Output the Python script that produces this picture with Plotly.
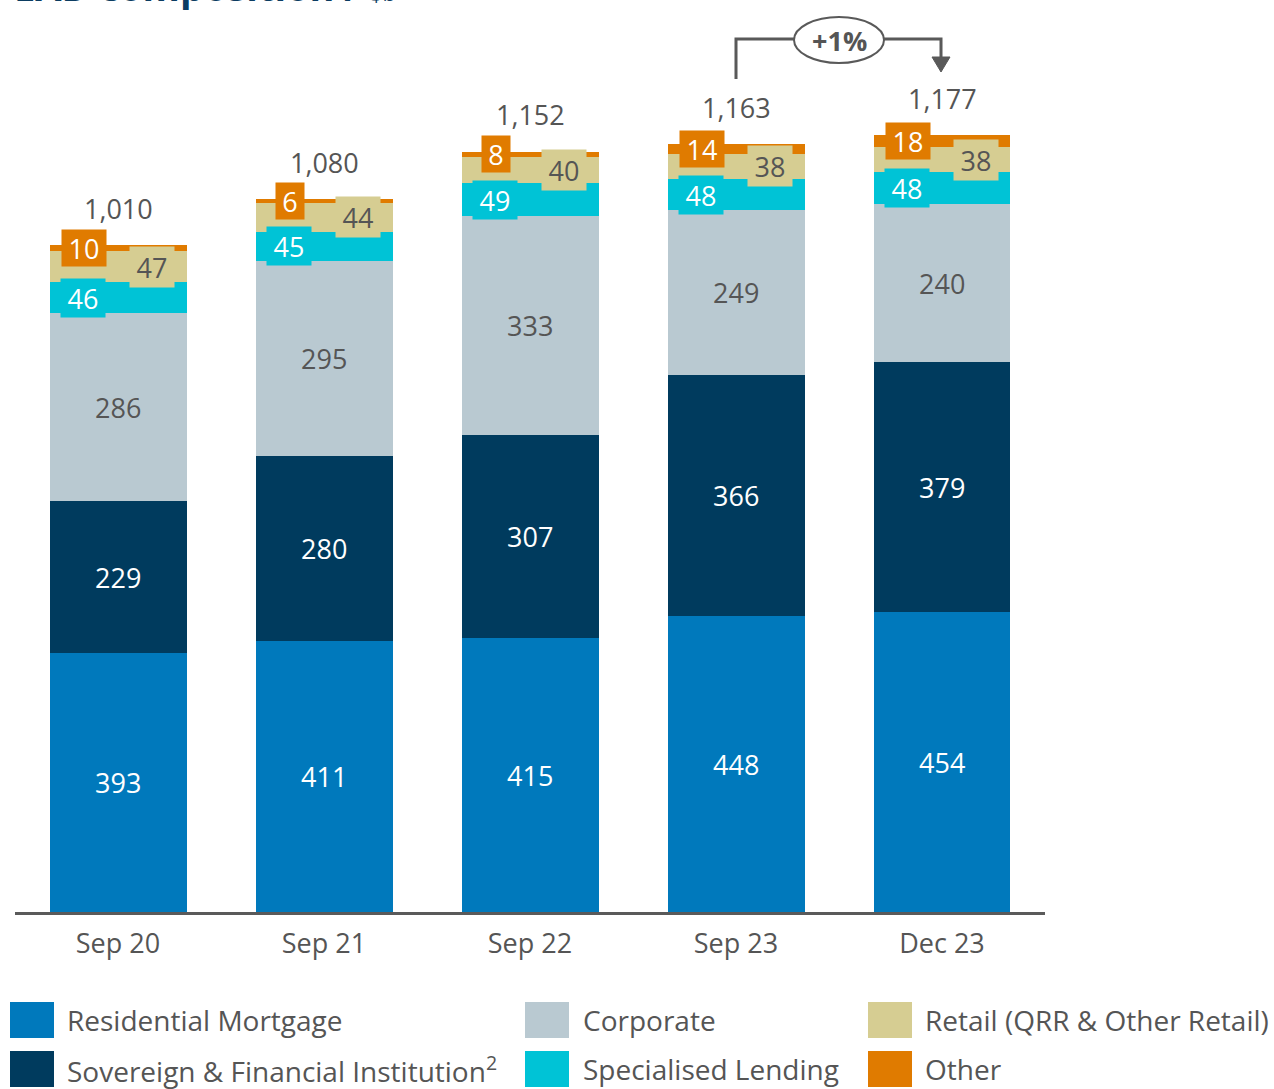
import plotly.graph_objects as go

categories = ["Sep 20", "Sep 21", "Sep 22", "Sep 23", "Dec 23"]
residential = [393, 411, 415, 448, 454]
sovereign = [229, 280, 307, 366, 379]
corporate = [286, 295, 333, 249, 240]
specialised = [46, 45, 49, 48, 48]
retail = [47, 44, 40, 38, 38]
other = [10, 6, 8, 14, 18]
totals = [1010, 1080, 1152, 1163, 1177]

series = [
    ("Residential Mortgage", residential, "#0079BC", "white"),
    ("Sovereign & Financial Institution<sup>2</sup>", sovereign, "#003B5E", "white"),
    ("Corporate", corporate, "#B9C9D1", "#555555"),
    ("Specialised Lending", specialised, "#00C3D6", "white"),
    ("Retail (QRR & Other Retail)", retail, "#D6CD92", "#555555"),
    ("Other", other, "#E07B00", "white"),
]

FONT = "Open Sans"
GRAY = "#555555"
W, H = 1274, 1089
L, R, B, T = 15, 229, 177, 0
PW = W - L - R
PH = H - B - T
YMAX = PH / 0.66


def px_x(p):
    return (p - L) / PW


def px_y(p):
    return (H - B - p) / PH


fig = go.Figure()
for name, vals, col, _ in series:
    fig.add_trace(go.Bar(x=categories, y=vals, name=name, marker=dict(color=col, line=dict(width=0)),
                         showlegend=False, hoverinfo="skip"))

annotations = []
for i in range(len(categories)):
    base = 0
    for k, (name, vals, col, tcol) in enumerate(series):
        v = vals[i]
        mid = base + v / 2
        txt = str(v)
        f = dict(family=FONT, size=27, color=tcol)
        if k < 3:
            annotations.append(dict(x=i, y=mid, text=txt, showarrow=False, font=f))
        elif k == 3:
            annotations.append(dict(x=i, y=mid, text=txt, showarrow=False, xshift=-35,
                                    bgcolor=col, borderpad=0, width=44, height=38, font=f))
        elif k == 4:
            annotations.append(dict(x=i, y=mid, text=txt, showarrow=False, xshift=34,
                                    bgcolor=col, borderpad=0, width=44, height=40, font=f))
        else:
            annotations.append(dict(x=i, y=mid, text=txt, showarrow=False, xshift=-34,
                                    bgcolor=col, borderpad=0, width=16 * len(txt) + 12, height=36,
                                    font=f))
        base += v
    annotations.append(dict(x=i, y=totals[i], text=f"{totals[i]:,}", showarrow=False, yshift=37,
                            font=dict(family=FONT, size=27, color=GRAY)))

# title (cut off at the top of the page)
annotations.append(dict(xref="paper", yref="paper", x=px_x(12), y=px_y(14), xanchor="left", yanchor="bottom",
                        showarrow=False,
                        text="<b>EAD composition /</b> <span style='font-size:22px'>$b</span>",
                        font=dict(family=FONT, size=38, color="#0B3C61")))

# growth indicator
shapes = []
lc = "#595959"
shapes.append(dict(type="path", xref="paper", yref="paper",
                   path=f"M {px_x(736)} {px_y(79)} L {px_x(736)} {px_y(39)} L {px_x(941)} {px_y(39)} L {px_x(941)} {px_y(58)}",
                   line=dict(color=lc, width=3)))
shapes.append(dict(type="path", xref="paper", yref="paper",
                   path=f"M {px_x(932)} {px_y(57)} L {px_x(950)} {px_y(57)} L {px_x(941)} {px_y(72)} Z",
                   fillcolor=lc, line=dict(color=lc, width=1)))
shapes.append(dict(type="circle", xref="paper", yref="paper",
                   x0=px_x(794), x1=px_x(884), y0=px_y(63), y1=px_y(17),
                   fillcolor="white", line=dict(color=lc, width=2)))
annotations.append(dict(xref="paper", yref="paper", x=px_x(839), y=px_y(40), xanchor="center",
                        yanchor="middle", text="<b>+1%</b>",
                        showarrow=False, font=dict(family=FONT, size=27, color=GRAY)))

# custom legend
leg = [
    (0, 10, 65), (2, 525, 581), (4, 868, 923),
    (1, 10, 65), (3, 525, 581), (5, 868, 923),
]
for j, (k, sx, tx) in enumerate(leg):
    row = j // 3
    cy = 1020 if row == 0 else 1069
    name, _, col, _ = series[k]
    shapes.append(dict(type="rect", xref="paper", yref="paper",
                       x0=px_x(sx), x1=px_x(sx + 44), y0=px_y(cy + 18), y1=px_y(cy - 18),
                       fillcolor=col, line=dict(width=0)))
    annotations.append(dict(xref="paper", yref="paper", x=px_x(tx), y=px_y(cy), xanchor="left",
                            yanchor="middle", text=name, showarrow=False,
                            font=dict(family=FONT, size=28, color=GRAY)))

fig.update_layout(
    barmode="stack",
    bargap=0.335,
    width=W, height=H,
    margin=dict(l=L, r=R, t=T, b=B, pad=0),
    paper_bgcolor="white", plot_bgcolor="white",
    annotations=annotations, shapes=shapes,
    xaxis=dict(showline=True, linecolor="#5a5a5a", linewidth=3, ticks="", showgrid=False,
               ticklabelstandoff=6,
               tickfont=dict(family=FONT, size=27, color=GRAY), fixedrange=True),
    yaxis=dict(range=[0, YMAX], visible=False, showgrid=False, zeroline=False),
)

fig.write_html("out.html", config={"displayModeBar": False},
               post_script="document.body.style.margin='0px';document.body.style.overflow='hidden';")
